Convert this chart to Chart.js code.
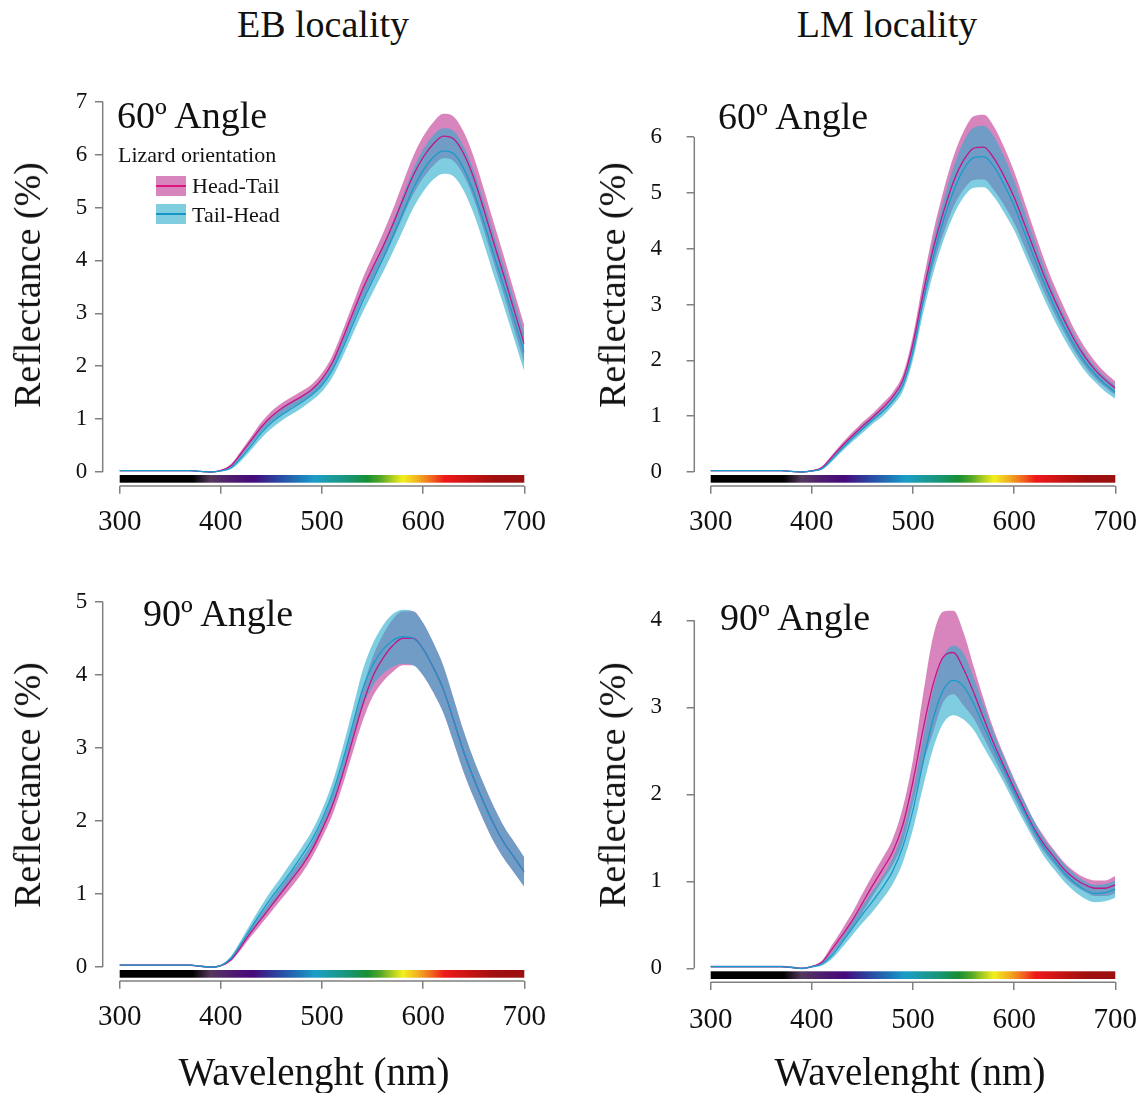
<!DOCTYPE html>
<html>
<head>
<meta charset="utf-8">
<script src="https://cdn.jsdelivr.net/npm/chart.js@4.4.0/dist/chart.umd.min.js"></script>
<style>
  body { margin: 0; background: #fff; width: 1146px; height: 1093px; position: relative; overflow: hidden;
         font-family: "Liberation Serif", "DejaVu Serif", serif; color: #111; }
  canvas { position: absolute; }
  .txt { position: absolute; line-height: 1; white-space: nowrap; }
  .rot { transform: translate(-50%, -50%) rotate(-90deg); }
  .sw { position: absolute; width: 30px; height: 20px; }
  .sw i { position: absolute; left: 0; right: 0; top: 9px; height: 2px; }
</style>
</head>
<body>
<canvas id="eb60" width="573" height="500" style="left:0;top:60px"></canvas>
<canvas id="lm60" width="573" height="500" style="left:573px;top:60px"></canvas>
<canvas id="eb90" width="573" height="500" style="left:0;top:560px"></canvas>
<canvas id="lm90" width="573" height="500" style="left:573px;top:560px"></canvas>

<div class="txt" style="left:123px;top:5px;width:400px;text-align:center;font-size:38px">EB locality</div>
<div class="txt" style="left:687px;top:5px;width:400px;text-align:center;font-size:38px">LM locality</div>

<div class="txt rot" style="left:27px;top:285px;font-size:38px">Reflectance (%)</div>
<div class="txt rot" style="left:612px;top:285px;font-size:38px">Reflectance (%)</div>
<div class="txt rot" style="left:27px;top:785px;font-size:38px">Reflectance (%)</div>
<div class="txt rot" style="left:612px;top:785px;font-size:38px">Reflectance (%)</div>

<div class="txt" style="left:114px;top:1052px;width:400px;text-align:center;font-size:39px">Wavelenght (nm)</div>
<div class="txt" style="left:710px;top:1052px;width:400px;text-align:center;font-size:39px">Wavelenght (nm)</div>

<div class="txt" style="left:117px;top:96px;font-size:38px">60º Angle</div>
<div class="txt" style="left:718px;top:97px;font-size:38px">60º Angle</div>
<div class="txt" style="left:143px;top:594px;font-size:38px">90º Angle</div>
<div class="txt" style="left:720px;top:598px;font-size:38px">90º Angle</div>

<div class="txt" style="left:118px;top:144px;font-size:22px">Lizard orientation</div>
<div class="sw" style="left:156px;top:176px;background:#d985bd"><i style="background:#e0157f"></i></div>
<div class="txt" style="left:192px;top:175px;font-size:22px">Head-Tail</div>
<div class="sw" style="left:156px;top:204px;background:#80cde0"><i style="background:#1596c4"></i></div>
<div class="txt" style="left:192px;top:204px;font-size:22px">Tail-Head</div>

<script>
// Wavelengths (nm) shared by every series
const wavelengths = [300, 310, 320, 330, 340, 350, 360, 370, 380, 390, 400,
  410, 420, 430, 440, 450, 460, 470, 480, 490, 500,
  510, 520, 530, 540, 550, 560, 570, 580, 590, 600,
  610, 620, 630, 640, 650, 660, 670, 680, 690, 700];
const wavelengthTicks = [300, 400, 500, 600, 700];

// EB locality, 60º
const eb60YTicks = [0, 1, 2, 3, 4, 5, 6, 7];
const eb60HeadTail = [0.025, 0.025, 0.025, 0.025, 0.025, 0.025, 0.025, 0.025, 0.01, 0.0, 0.03,
  0.12, 0.35, 0.6, 0.85, 1.05, 1.2, 1.32, 1.43, 1.56, 1.76,
  2.06, 2.5, 2.98, 3.45, 3.86, 4.25, 4.68, 5.15, 5.6, 5.95,
  6.2, 6.35, 6.3, 6.02, 5.56, 4.96, 4.32, 3.7, 3.05, 2.42];
const eb60HeadTailSE = [0.01, 0.01, 0.01, 0.01, 0.01, 0.01, 0.01, 0.01, 0.01, 0.01, 0.01,
  0.03, 0.05, 0.07, 0.09, 0.1, 0.1, 0.1, 0.1, 0.1, 0.11,
  0.13, 0.15, 0.17, 0.2, 0.22, 0.25, 0.28, 0.32, 0.36, 0.39,
  0.41, 0.42, 0.42, 0.41, 0.4, 0.39, 0.38, 0.37, 0.36, 0.35];
const eb60TailHead = [0.025, 0.025, 0.025, 0.025, 0.025, 0.025, 0.025, 0.025, 0.01, 0.0, 0.02,
  0.08, 0.27, 0.5, 0.74, 0.93, 1.08, 1.2, 1.32, 1.46, 1.64,
  1.92, 2.32, 2.77, 3.22, 3.62, 4.02, 4.45, 4.9, 5.35, 5.7,
  5.95, 6.07, 6.02, 5.74, 5.29, 4.72, 4.1, 3.5, 2.88, 2.26];
const eb60TailHeadSE = [0.01, 0.01, 0.01, 0.01, 0.01, 0.01, 0.01, 0.01, 0.01, 0.01, 0.01,
  0.03, 0.06, 0.08, 0.1, 0.11, 0.11, 0.11, 0.11, 0.11, 0.12,
  0.14, 0.16, 0.18, 0.21, 0.23, 0.26, 0.29, 0.33, 0.37, 0.4,
  0.42, 0.43, 0.43, 0.42, 0.41, 0.4, 0.39, 0.38, 0.37, 0.36];

// LM locality, 60º
const lm60YTicks = [0, 1, 2, 3, 4, 5, 6];
const lm60HeadTail = [0.025, 0.025, 0.025, 0.025, 0.025, 0.025, 0.025, 0.025, 0.01, 0.0, 0.02,
  0.08, 0.27, 0.47, 0.65, 0.82, 0.98, 1.15, 1.35, 1.65, 2.3,
  3.2, 4.0, 4.65, 5.2, 5.58, 5.8, 5.82, 5.62, 5.3, 4.92,
  4.45, 3.97, 3.5, 3.08, 2.7, 2.35, 2.06, 1.83, 1.65, 1.5];
const lm60HeadTailSE = [0.01, 0.01, 0.01, 0.01, 0.01, 0.01, 0.01, 0.01, 0.01, 0.01, 0.01,
  0.02, 0.04, 0.05, 0.06, 0.07, 0.07, 0.08, 0.08, 0.1, 0.15,
  0.22, 0.3, 0.38, 0.45, 0.52, 0.57, 0.58, 0.57, 0.52, 0.46,
  0.4, 0.34, 0.29, 0.25, 0.22, 0.19, 0.17, 0.15, 0.13, 0.12];
const lm60TailHead = [0.025, 0.025, 0.025, 0.025, 0.025, 0.025, 0.025, 0.025, 0.01, 0.0, 0.02,
  0.06, 0.23, 0.42, 0.6, 0.77, 0.93, 1.08, 1.27, 1.55, 2.15,
  3.05, 3.85, 4.5, 5.03, 5.42, 5.63, 5.65, 5.47, 5.15, 4.77,
  4.3, 3.83, 3.37, 2.95, 2.58, 2.25, 1.97, 1.75, 1.57, 1.43];
const lm60TailHeadSE = [0.01, 0.01, 0.01, 0.01, 0.01, 0.01, 0.01, 0.01, 0.01, 0.01, 0.01,
  0.02, 0.04, 0.05, 0.06, 0.07, 0.07, 0.08, 0.08, 0.1, 0.14,
  0.21, 0.29, 0.36, 0.43, 0.5, 0.54, 0.55, 0.54, 0.5, 0.44,
  0.38, 0.33, 0.28, 0.24, 0.21, 0.18, 0.16, 0.14, 0.13, 0.12];

// EB locality, 90º
const eb90YTicks = [0, 1, 2, 3, 4, 5];
const eb90HeadTail = [0.025, 0.025, 0.025, 0.025, 0.025, 0.025, 0.025, 0.025, 0.01, 0.0, 0.02,
  0.1, 0.28, 0.48, 0.66, 0.84, 1.02, 1.2, 1.38, 1.6, 1.88,
  2.2, 2.62, 3.1, 3.58, 3.97, 4.22, 4.4, 4.5, 4.5, 4.35,
  4.1, 3.8, 3.38, 2.95, 2.58, 2.25, 1.95, 1.7, 1.5, 1.3];
const eb90HeadTailSE = [0.01, 0.01, 0.01, 0.01, 0.01, 0.01, 0.01, 0.01, 0.01, 0.01, 0.01,
  0.02, 0.04, 0.06, 0.07, 0.08, 0.09, 0.1, 0.1, 0.1, 0.11,
  0.13, 0.15, 0.18, 0.22, 0.27, 0.32, 0.36, 0.37, 0.37, 0.36,
  0.34, 0.32, 0.3, 0.28, 0.26, 0.25, 0.24, 0.22, 0.21, 0.2];
const eb90TailHead = [0.025, 0.025, 0.025, 0.025, 0.025, 0.025, 0.025, 0.025, 0.01, 0.0, 0.02,
  0.12, 0.32, 0.54, 0.75, 0.95, 1.13, 1.32, 1.52, 1.74, 2.02,
  2.36, 2.8, 3.3, 3.8, 4.13, 4.34, 4.47, 4.52, 4.5, 4.35,
  4.1, 3.8, 3.38, 2.95, 2.58, 2.25, 1.95, 1.7, 1.5, 1.3];
const eb90TailHeadSE = [0.01, 0.01, 0.01, 0.01, 0.01, 0.01, 0.01, 0.01, 0.01, 0.01, 0.01,
  0.03, 0.05, 0.07, 0.09, 0.1, 0.11, 0.12, 0.12, 0.12, 0.13,
  0.15, 0.18, 0.21, 0.25, 0.29, 0.33, 0.36, 0.37, 0.37, 0.36,
  0.34, 0.32, 0.3, 0.28, 0.26, 0.25, 0.24, 0.22, 0.21, 0.2];

// LM locality, 90º
const lm90YTicks = [0, 1, 2, 3, 4];
const lm90HeadTail = [0.02, 0.02, 0.02, 0.02, 0.02, 0.02, 0.02, 0.02, 0.01, 0.0, 0.02,
  0.07, 0.22, 0.38, 0.55, 0.75, 0.95, 1.14, 1.34, 1.65, 2.15,
  2.75, 3.27, 3.58, 3.63, 3.44, 3.17, 2.87, 2.58, 2.32, 2.07,
  1.83, 1.6, 1.42, 1.27, 1.13, 1.03, 0.96, 0.92, 0.92, 0.96];
const lm90HeadTailSE = [0.01, 0.01, 0.01, 0.01, 0.01, 0.01, 0.01, 0.01, 0.01, 0.01, 0.01,
  0.02, 0.05, 0.07, 0.09, 0.11, 0.12, 0.13, 0.15, 0.2, 0.25,
  0.4, 0.55, 0.52, 0.48, 0.42, 0.3, 0.22, 0.16, 0.13, 0.11,
  0.1, 0.09, 0.09, 0.08, 0.08, 0.08, 0.08, 0.09, 0.09, 0.1];
const lm90TailHead = [0.02, 0.02, 0.02, 0.02, 0.02, 0.02, 0.02, 0.02, 0.01, 0.0, 0.02,
  0.05, 0.15, 0.3, 0.46, 0.62, 0.77, 0.93, 1.12, 1.4, 1.82,
  2.37, 2.87, 3.2, 3.31, 3.24, 3.04, 2.78, 2.52, 2.28, 2.03,
  1.8, 1.58, 1.38, 1.23, 1.09, 0.98, 0.9, 0.86, 0.87, 0.91];
const lm90TailHeadSE = [0.01, 0.01, 0.01, 0.01, 0.01, 0.01, 0.01, 0.01, 0.01, 0.01, 0.01,
  0.02, 0.04, 0.06, 0.08, 0.1, 0.12, 0.13, 0.15, 0.18, 0.22,
  0.28, 0.34, 0.38, 0.4, 0.38, 0.3, 0.24, 0.18, 0.15, 0.13,
  0.12, 0.11, 0.1, 0.1, 0.1, 0.1, 0.1, 0.1, 0.1, 0.1];

// Colour bar under the x axis (nm, colour)
const spectrumStops = [
  [300, '#000000'], [372, '#000000'], [390, '#55395c'], [410, '#4e1c70'], [432, '#47097a'],
  [455, '#2b42a0'], [478, '#1f78b8'], [493, '#1a9ec8'], [508, '#1a9ba0'], [525, '#19957a'],
  [545, '#178f32'], [558, '#55a828'], [570, '#b2cf20'], [580, '#f2f01e'], [595, '#f2ae20'],
  [608, '#f06a1e'], [621, '#ee1a1a'], [650, '#c11212'], [670, '#a10f0f'], [700, '#9a1010']
];

const FONT = '"Liberation Serif", "DejaVu Serif", serif';
const AXIS_COLOR = '#808080';
const HT_FILL = 'rgba(192, 52, 145, 0.6)';
const TH_FILL = 'rgba(42, 172, 203, 0.6)';
const HT_LINE = '#c2168a';
const TH_LINE = '#1a9bcb';

const panels = [
  { id: 'eb60', left: 0, top: 60, axisX: 102.7, x300: 119.7, x700: 524.3, zeroY: 472, topTickY: 101.7, topY: 95,
    yTicks: eb60YTicks, labelPad: 7.7, xPad: 11, ht: eb60HeadTail, htSE: eb60HeadTailSE, th: eb60TailHead, thSE: eb60TailHeadSE },
  { id: 'lm60', left: 573, top: 60, axisX: 694.3, x300: 710.7, x700: 1115.3, zeroY: 472, topTickY: 137, topY: 95,
    yTicks: lm60YTicks, labelPad: 24.6, xPad: 11, ht: lm60HeadTail, htSE: lm60HeadTailSE, th: lm60TailHead, thSE: lm60TailHeadSE },
  { id: 'eb90', left: 0, top: 560, axisX: 102.7, x300: 119.7, x700: 524.3, zeroY: 967, topTickY: 601.7, topY: 590,
    yTicks: eb90YTicks, labelPad: 7.7, xPad: 11, ht: eb90HeadTail, htSE: eb90HeadTailSE, th: eb90TailHead, thSE: eb90TailHeadSE },
  { id: 'lm90', left: 573, top: 560, axisX: 694.3, x300: 710.7, x700: 1115.3, zeroY: 968.3, topTickY: 620.3, topY: 590,
    yTicks: lm90YTicks, labelPad: 24.6, xPad: 13, ht: lm90HeadTail, htSE: lm90HeadTailSE, th: lm90TailHead, thSE: lm90TailHeadSE }
];

const CANVAS_W = 573, CANVAS_H = 500;
const Y_AXIS_W = 90, X_AXIS_H = 60, AXIS_GAP = 14;

function points(values) {
  return wavelengths.map((w, i) => ({ x: w, y: values[i] }));
}
function shifted(values, se, sign) {
  return values.map((v, i) => v + sign * se[i]);
}

// Colour bar and R-style axis lines (span only the tick range)
const spectrumAxes = {
  id: 'spectrumAxes',
  beforeDatasetsDraw(chart, args, opts) {
    const { ctx, scales: { x, y } } = chart;
    const x0 = x.getPixelForValue(300), x1 = x.getPixelForValue(700);
    const zero = y.getPixelForValue(0);
    const grad = ctx.createLinearGradient(x0, 0, x1, 0);
    spectrumStops.forEach(([nm, c]) => grad.addColorStop((nm - 300) / 400, c));
    ctx.save();
    ctx.fillStyle = grad;
    ctx.fillRect(x0, zero + 3, x1 - x0, 7.7);
    ctx.restore();
  },
  afterDraw(chart, args, opts) {
    const { ctx, chartArea, scales: { x, y } } = chart;
    ctx.save();
    ctx.strokeStyle = AXIS_COLOR;
    ctx.lineWidth = 1.5;
    ctx.beginPath();
    ctx.moveTo(chartArea.left, y.getPixelForValue(0));
    ctx.lineTo(chartArea.left, y.getPixelForValue(opts.topTick));
    ctx.moveTo(x.getPixelForValue(300), chartArea.bottom);
    ctx.lineTo(x.getPixelForValue(700), chartArea.bottom);
    ctx.stroke();
    ctx.restore();
  }
};

panels.forEach(p => {
  const left = p.axisX - p.left;
  const right = p.x700 - p.left;
  const top = p.topY - p.top;
  const bottom = p.zeroY + AXIS_GAP - p.top;

  const nmPx = (p.x700 - p.x300) / 400;
  const topTick = p.yTicks[p.yTicks.length - 1];
  const unitPx = (p.zeroY - p.topTickY) / topTick;

  const line = (data, extra) => Object.assign({
    data: data, pointRadius: 0, borderWidth: 0,
    borderColor: 'transparent', fill: false, cubicInterpolationMode: 'monotone'
  }, extra);

  new Chart(document.getElementById(p.id), {
    type: 'line',
    data: {
      datasets: [
        line(points(shifted(p.ht, p.htSE, -1)), { order: 6 }),
        line(points(shifted(p.ht, p.htSE, 1)), { order: 5, fill: '-1', backgroundColor: HT_FILL }),
        line(points(shifted(p.th, p.thSE, -1)), { order: 4 }),
        line(points(shifted(p.th, p.thSE, 1)), { order: 3, fill: '-1', backgroundColor: TH_FILL }),
        line(points(p.ht), { order: 2, borderColor: HT_LINE, borderWidth: 1.3 }),
        line(points(p.th), { order: 1, borderColor: TH_LINE, borderWidth: 1.3 })
      ]
    },
    options: {
      responsive: false,
      animation: false,
      devicePixelRatio: 1,
      layout: {
        padding: {
          left: left - Y_AXIS_W,
          right: CANVAS_W - right,
          top: top,
          bottom: CANVAS_H - bottom - X_AXIS_H
        }
      },
      plugins: {
        legend: { display: false },
        tooltip: { enabled: false },
        spectrumAxes: { topTick: topTick }
      },
      scales: {
        x: {
          type: 'linear',
          min: 300 - (p.x300 - p.axisX) / nmPx,
          max: 700,
          afterBuildTicks: s => { s.ticks = wavelengthTicks.map(v => ({ value: v })); },
          afterFit: s => { s.height = X_AXIS_H; s.paddingLeft = 0; s.paddingRight = 0; },
          border: { display: false },
          grid: { drawOnChartArea: false, drawTicks: true, tickLength: 7.7, color: AXIS_COLOR, lineWidth: 1.5 },
          ticks: { autoSkip: false, maxRotation: 0, padding: p.xPad, color: '#111',
                   font: { family: FONT, size: 29 }, callback: v => String(v) }
        },
        y: {
          min: -AXIS_GAP / unitPx,
          max: (p.zeroY - p.topY) / unitPx,
          afterBuildTicks: s => { s.ticks = p.yTicks.map(v => ({ value: v })); },
          afterFit: s => { s.width = Y_AXIS_W; s.paddingTop = 0; s.paddingBottom = 0; },
          border: { display: false },
          grid: { drawOnChartArea: false, drawTicks: true, tickLength: 7.7, color: AXIS_COLOR, lineWidth: 1.5 },
          ticks: { autoSkip: false, padding: p.labelPad, color: '#111',
                   font: { family: FONT, size: 23 }, callback: v => String(v) }
        }
      }
    },
    plugins: [spectrumAxes]
  });
});
</script>
</body>
</html>
